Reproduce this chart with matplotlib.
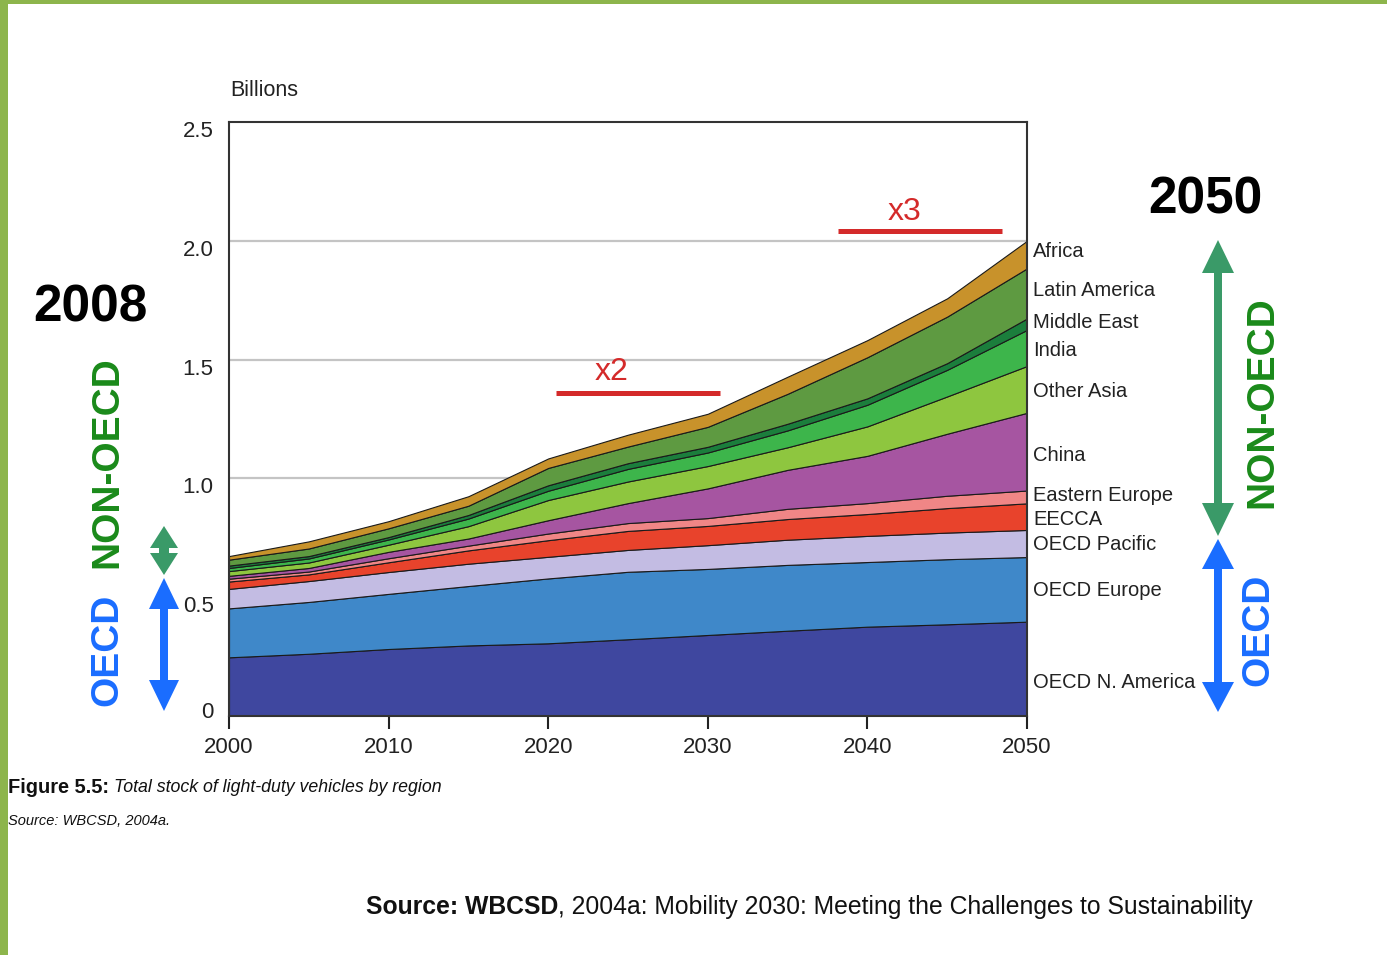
import matplotlib
matplotlib.use("Agg")
import numpy as np
import matplotlib.pyplot as plt
from matplotlib.patches import Polygon, Rectangle
from matplotlib.transforms import ScaledTranslation

plt.rcParams['font.family'] = ['Liberation Sans', 'DejaVu Sans']

# ========== DATA (billions of light-duty vehicles) ========== #
years = [2000, 2005, 2010, 2015, 2020, 2025, 2030, 2035, 2040, 2045, 2050]

regions = ["OECD N. America", "OECD Europe", "OECD Pacific", "EECCA", "Eastern Europe",
           "China", "Other Asia", "India", "Middle East", "Latin America", "Africa"]

oecd_na      = [0.247, 0.262, 0.282, 0.297, 0.306, 0.323, 0.341, 0.359, 0.376, 0.386, 0.397]
oecd_europe  = [0.206, 0.218, 0.232, 0.250, 0.273, 0.284, 0.278, 0.277, 0.272, 0.274, 0.272]
oecd_pacific = [0.082, 0.088, 0.092, 0.094, 0.091, 0.092, 0.100, 0.106, 0.110, 0.112, 0.114]
eecca        = [0.031, 0.028, 0.041, 0.056, 0.070, 0.080, 0.081, 0.087, 0.092, 0.103, 0.112]
east_europe  = [0.012, 0.012, 0.017, 0.020, 0.028, 0.033, 0.033, 0.043, 0.046, 0.052, 0.054]
china        = [0.012, 0.015, 0.027, 0.030, 0.056, 0.084, 0.125, 0.164, 0.199, 0.261, 0.327]
other_asia   = [0.020, 0.023, 0.030, 0.052, 0.085, 0.091, 0.094, 0.095, 0.124, 0.157, 0.197]
india        = [0.013, 0.017, 0.022, 0.032, 0.039, 0.053, 0.057, 0.071, 0.091, 0.112, 0.152]
middle_east  = [0.010, 0.010, 0.010, 0.015, 0.023, 0.024, 0.024, 0.028, 0.027, 0.028, 0.048]
latin_am     = [0.025, 0.032, 0.037, 0.039, 0.073, 0.070, 0.084, 0.126, 0.173, 0.196, 0.211]
africa       = [0.015, 0.030, 0.030, 0.040, 0.040, 0.050, 0.055, 0.072, 0.072, 0.077, 0.116]

series = [oecd_na, oecd_europe, oecd_pacific, eecca, east_europe,
          china, other_asia, india, middle_east, latin_am, africa]

colors = ['#3f479f', '#3f88c9', '#c3bce3', '#e8432c', '#f08686',
          '#a655a1', '#8ec63f', '#3db54b', '#1b7e3c', '#5e9a41', '#c8922b']

# where the region names sit on the right (data units)
label_y = [0.143, 0.530, 0.720, 0.829, 0.930, 1.098, 1.364, 1.540, 1.658, 1.789, 1.957]

yticks = [0, 0.5, 1.0, 1.5, 2.0, 2.5]
ytick_labels = ["0", "0.5", "1.0", "1.5", "2.0", "2.5"]
xticks = [2000, 2010, 2020, 2030, 2040, 2050]

W, H = 1387, 955

# ========== CHART ========== #
fig = plt.figure(figsize=(W / 100, H / 100), dpi=100)
ax = fig.add_axes([229 / W, 1 - 716 / H, 798 / W, 594 / H])

ax.stackplot(years, *series, colors=colors, edgecolor='#1a1a1a', linewidth=0.8)
for g in [0.5, 1.0, 1.5, 2.0]:
    ax.axhline(g, color='#c4c4c4', lw=1.6, zorder=0)

ax.set_xlim(2000, 2050)
ax.set_ylim(0, 2.5)
ax.set_yticks(yticks)
ax.set_yticklabels(ytick_labels)
ax.set_xticks(xticks)
ax.tick_params(axis='y', length=0, pad=11, labelsize=16, labelcolor='#222222')
ax.tick_params(axis='x', length=9, width=1.5, pad=6, labelsize=16, labelcolor='#222222',
               color='#222222', direction='out')
for s in ax.spines.values():
    s.set_color('#333333')
    s.set_linewidth(1.5)

# the original's y labels sit a little below their gridlines
for val, lbl in zip(yticks, ax.get_yticklabels()):
    dy = 4 / 72 if val == 0 else -5 / 72
    lbl.set_transform(lbl.get_transform() + ScaledTranslation(0, dy, fig.dpi_scale_trans))

for name, ly in zip(regions, label_y):
    ax.text(2050.4, ly, name, fontsize=14.5, ha='left', va='center',
            color='#222222', clip_on=False)

# ========== OVERLAY (annotations in pixel units) ========== #
ov = fig.add_axes([0, 0, 1, 1])
ov.set_xlim(0, W)
ov.set_ylim(H, 0)
ov.axis('off')
ov.patch.set_alpha(0)

# green frame
ov.add_patch(Rectangle((0, 0), W, 4, color='#8db54c', lw=0))
ov.add_patch(Rectangle((0, 0), 8, H, color='#8db54c', lw=0))


def double_arrow(x, y_top, y_bot, head_len, head_hw, shaft_hw, color):
    pts = [(x, y_top), (x + head_hw, y_top + head_len), (x + shaft_hw, y_top + head_len),
           (x + shaft_hw, y_bot - head_len), (x + head_hw, y_bot - head_len), (x, y_bot),
           (x - head_hw, y_bot - head_len), (x - shaft_hw, y_bot - head_len),
           (x - shaft_hw, y_top + head_len), (x - head_hw, y_top + head_len)]
    ov.add_patch(Polygon(pts, closed=True, color=color, lw=0))


GREEN_ARR = '#3a9a68'
BLUE = '#1a6dff'
GREEN_TXT = '#1a8a1a'
RED = '#d42a2a'

double_arrow(164, 526, 575, 22, 14, 5, GREEN_ARR)
double_arrow(164, 578, 711, 31, 15, 4, BLUE)
double_arrow(1218, 240, 536, 33, 16, 4, GREEN_ARR)
double_arrow(1218, 539, 712, 30, 16, 4, BLUE)

ov.text(230, 90, "Billions", fontsize=15.5, ha='left', va='center', color='#222222')
ov.text(90, 308, "2008", fontsize=37, fontweight='bold', ha='center', va='center', color='black')
ov.text(1205, 200, "2050", fontsize=37, fontweight='bold', ha='center', va='center', color='black')

ov.text(107, 462, "NON-OECD", fontsize=28, fontweight='bold', rotation=90,
        ha='center', va='center', color=GREEN_TXT)
ov.text(107, 650, "OECD", fontsize=28, fontweight='bold', rotation=90,
        ha='center', va='center', color=BLUE)
ov.text(1262, 402, "NON-OECD", fontsize=28, fontweight='bold', rotation=90,
        ha='center', va='center', color=GREEN_TXT)
ov.text(1258, 630, "OECD", fontsize=28, fontweight='bold', rotation=90,
        ha='center', va='center', color=BLUE)

# growth markers
ov.plot([556, 720], [392.5, 392.5], color=RED, lw=3.6, solid_capstyle='butt')
ov.text(612, 372, "x2", fontsize=23, ha='center', va='center', color=RED)
ov.plot([838, 1002], [231.5, 231.5], color=RED, lw=3.6, solid_capstyle='butt')
ov.text(905, 212, "x3", fontsize=23, ha='center', va='center', color=RED)

# captions with mixed weights
fig.canvas.draw()
renderer = fig.canvas.get_renderer()


def mixed(x, y, parts):
    for txt, kw in parts:
        t = ov.text(x, y, txt, ha='left', va='center', color='#111111', **kw)
        bb = t.get_window_extent(renderer)
        x = bb.x1


mixed(8, 787, [("Figure 5.5: ", dict(fontsize=14.4, fontweight='bold')),
               ("Total stock of light-duty vehicles by region", dict(fontsize=12.8, style='italic'))])
ov.text(8, 821, "Source: WBCSD, 2004a.", fontsize=10.5, style='italic',
        ha='left', va='center', color='#111111')
mixed(366, 907, [("Source: WBCSD", dict(fontsize=17.8, fontweight='bold')),
                 (", 2004a: Mobility 2030: Meeting the Challenges to Sustainability",
                  dict(fontsize=17.8))])

fig.savefig("out.png", dpi=100)
